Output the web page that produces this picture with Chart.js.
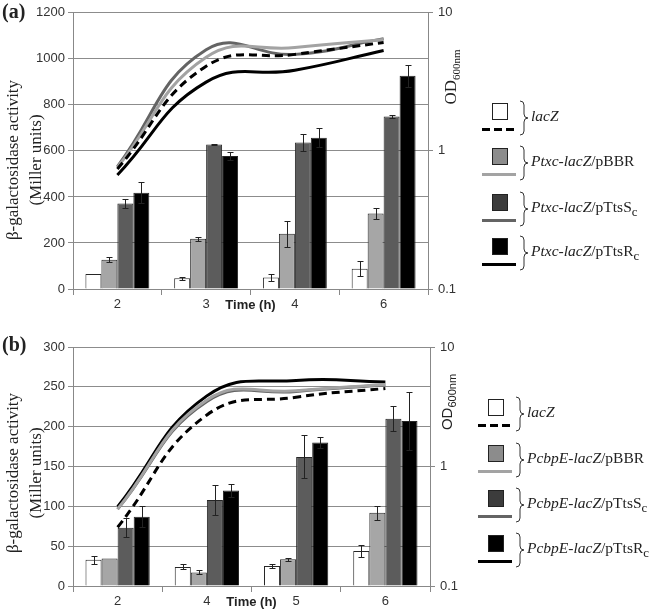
<!DOCTYPE html>
<html>
<head>
<meta charset="utf-8">
<script src="https://cdn.jsdelivr.net/npm/chart.js@4.4.0/dist/chart.umd.min.js"></script>
<style>
body { margin: 0; background: #fff; }
#wrap { position: relative; width: 650px; height: 610px; overflow: hidden; font-family: "Liberation Serif", serif; color: #222; }
canvas { position: absolute; left: 0; }
.abs { position: absolute; white-space: nowrap; }
.rot { transform: rotate(-90deg); text-align: center; }
</style>
</head>
<body>
<div id="wrap">
  <canvas id="chartA" width="650" height="315" style="top:0"></canvas>
  <canvas id="chartB" width="650" height="295" style="top:315px"></canvas>
</div>
<script>
// ---- panel (a) data ----
const timesA = ['2', '3', '4', '6'];
const lacZA = [65, 47, 50, 88];
const lacZErrA = [0, 7, 14, 32];
const pbbrA = [127, 218, 240, 328];
const pbbrErrA = [10, 10, 57, 23];
const ttsSA = [372, 628, 637, 750];
const ttsSErrA = [18, 2, 37, 5];
const ttsRA = [418, 578, 657, 926];
const ttsRErrA = [45, 18, 42, 48];
// OD600nm (right axis)
const odLacZA = [0.74, 4.1, 5.0, 6.1];
const odPbbrA = [0.76, 4.76, 5.6, 6.4];
const odTtsSA = [0.77, 5.4, 5.0, 6.5];
const odTtsRA = [0.67, 3.15, 3.84, 5.34];
const legendA = ['<i>lacZ</i>', '<i>Ptxc-lacZ</i>/pBBR', '<i>Ptxc-lacZ</i>/pTtsS<sub>c</sub>', '<i>Ptxc-lacZ</i>/pTtsR<sub>c</sub>'];

// ---- panel (b) data ----
const timesB = ['2', '4', '5', '6'];
const lacZB = [33, 24, 25, 44];
const lacZErrB = [5, 3, 2, 7];
const pbbrB = [34.5, 17, 33.5, 92];
const pbbrErrB = [0, 2.5, 1.5, 9];
const ttsSB = [73, 108, 162, 210];
const ttsSErrB = [12, 19, 27, 16];
const ttsRB = [87, 120, 180, 207];
const ttsRErrB = [13, 8, 7, 36];
const odLacZB = [0.31, 2.7, 3.8, 4.5];
const odPbbrB = [0.44, 3.6, 4.3, 4.85];
const odTtsSB = [0.44, 3.5, 4.25, 4.8];
const odTtsRB = [0.46, 3.9, 5.25, 5.1];
const legendB = ['<i>lacZ</i>', '<i>PcbpE-lacZ</i>/pBBR', '<i>PcbpE-lacZ</i>/pTtsS<sub>c</sub>', '<i>PcbpE-lacZ</i>/pTtsR<sub>c</sub>'];

const odTicks = [0.1, 1, 10];
const xTitle = 'Time (h)';
const yTitle = ['β-galactosidase activity', '(Miller units)'];

// styles
const barFill = ['#ffffff', '#a6a6a6', '#5c5c5c', '#000000'];
const legendFill = ['#ffffff', '#8c8c8c', '#3c3c3c', '#000000'];
const lineColor = ['#000000', '#a3a3a3', '#646464', '#000000'];
const tickFont = { family: 'Liberation Sans', size: 13 };

// error bars drawn right after each bar dataset, so lines stay on top
const errorBars = {
    id: 'errorBars',
    afterDatasetDraw(chart, args) {
        const ds = chart.data.datasets[args.index];
        if (!ds.errors) return;
        const ctx = chart.ctx;
        const ys = chart.scales.y;
        ctx.save();
        ctx.strokeStyle = '#222';
        ctx.lineWidth = 1;
        args.meta.data.forEach((bar, j) => {
            const e = ds.errors[j];
            if (!e) return;
            const v = ds.data[j];
            const t = Math.round(ys.getPixelForValue(v + e)) + 0.5;
            const b = Math.round(ys.getPixelForValue(v - e)) + 0.5;
            const x = Math.round(bar.x) + 0.5;
            ctx.beginPath();
            ctx.moveTo(x, t); ctx.lineTo(x, b);
            ctx.moveTo(x - 3, t); ctx.lineTo(x + 3, t);
            ctx.moveTo(x - 3, b); ctx.lineTo(x + 3, b);
            ctx.stroke();
        });
        ctx.restore();
    }
};

// "Time (h)" sits on the tick-label row, between the 2nd and 3rd category
const timeTitle = {
    id: 'timeTitle',
    afterDraw(chart) {
        const xs = chart.scales.x;
        const ctx = chart.ctx;
        ctx.save();
        ctx.font = 'bold 13px "Liberation Sans"';
        ctx.fillStyle = '#222';
        ctx.textAlign = 'center';
        ctx.textBaseline = 'middle';
        const x = (xs.getPixelForValue(1) + xs.getPixelForValue(2)) / 2;
        ctx.fillText(xTitle, x, xs.top + 16);
        ctx.restore();
    }
};

function makePanel(id, labels, bars, errs, ods, yMax, yStep, box) {
    const datasets = [];
    bars.forEach((d, i) => datasets.push({
        type: 'bar', data: d, errors: errs[i], yAxisID: 'y', order: 2,
        backgroundColor: barFill[i], borderColor: '#262626', borderWidth: 1,
        categoryPercentage: 0.72, barPercentage: 1
    }));
    ods.forEach((d, i) => datasets.push({
        type: 'line', data: d, yAxisID: 'y2', order: 1,
        borderColor: lineColor[i], borderWidth: 3, borderDash: i === 0 ? [8, 5] : [],
        pointRadius: 0, tension: 0.45, fill: false
    }));
    return new Chart(document.getElementById(id), {
        data: { labels: labels, datasets: datasets },
        options: {
            responsive: false,
            animation: false,
            devicePixelRatio: 1,
            layout: { padding: { top: box.top, left: 0, right: 0, bottom: 0 } },
            plugins: { legend: { display: false }, tooltip: { enabled: false } },
            scales: {
                x: {
                    type: 'category', offset: true,
                    grid: { offset: true, drawOnChartArea: false, tickLength: 6, color: '#888' },
                    border: { color: '#888' },
                    ticks: { font: tickFont, color: '#333', padding: 2, maxRotation: 0 },
                    afterFit(s) { s.height = box.xh; }
                },
                y: {
                    position: 'left', min: 0, max: yMax,
                    ticks: { stepSize: yStep, font: tickFont, color: '#333', padding: 3, callback: v => String(v) },
                    grid: { color: '#8c8c8c', tickLength: 5 },
                    border: { color: '#888' },
                    afterFit(s) { s.width = 73; }
                },
                y2: {
                    type: 'logarithmic', position: 'right', min: 0.1, max: 10,
                    afterBuildTicks(s) { s.ticks = odTicks.map(v => ({ value: v })); },
                    ticks: { font: tickFont, color: '#333', padding: 5, callback: v => String(v) },
                    grid: { drawOnChartArea: false, tickLength: 5, color: '#888' },
                    border: { color: '#888' },
                    afterFit(s) { s.width = 650 - box.right; }
                }
            }
        },
        plugins: [errorBars, timeTitle]
    });
}

makePanel('chartA', timesA, [lacZA, pbbrA, ttsSA, ttsRA], [lacZErrA, pbbrErrA, ttsSErrA, ttsRErrA],
    [odLacZA, odPbbrA, odTtsSA, odTtsRA], 1200, 200, { top: 10, xh: 26, right: 428 });
makePanel('chartB', timesB, [lacZB, pbbrB, ttsSB, ttsRB], [lacZErrB, pbbrErrB, ttsSErrB, ttsRErrB],
    [odLacZB, odPbbrB, odTtsSB, odTtsRB], 300, 50, { top: 32, xh: 24, right: 430 });

// ---- text and legends around the plots ----
const wrap = document.getElementById('wrap');
function addDiv(html, css) {
    const d = document.createElement('div');
    d.className = 'abs';
    d.innerHTML = html;
    d.setAttribute('style', css);
    wrap.appendChild(d);
    return d;
}

function addTitles(tag, tagTop, leftCy, odCx, odCy, odFont) {
    addDiv(tag, 'left:2px;top:' + tagTop + 'px;font:bold 20px "Liberation Serif";');
    const t = addDiv(yTitle.join('<br>'), 'left:-106px;top:' + (leftCy - 23) + 'px;width:260px;height:46px;' +
        'font-family:"Liberation Serif";font-size:17px;line-height:23px;');
    t.classList.add('rot');
    const o = addDiv('OD<sub style="font-size:11px">600nm</sub>', 'left:' + (odCx - 40) + 'px;top:' + (odCy - 12) + 'px;width:80px;height:24px;' +
        'font:' + odFont + ';line-height:24px;');
    o.classList.add('rot');
}
addTitles('(a)', 0, 160, 451, 77, '17px "Liberation Serif"');
addTitles('(b)', 333, 473, 447, 402, '15px "Liberation Sans"');

function brace(x, y) {
    return '<svg class="abs" style="left:' + x + 'px;top:' + y + 'px" width="10" height="36">' +
        '<path d="M1,1 Q5,1 5,5 L5,14 Q5,18 9,18 Q5,18 5,22 L5,31 Q5,35 1,35" fill="none" stroke="#333" stroke-width="1"/></svg>';
}

function addLegend(labels, tops, pos) {
    labels.forEach((lab, i) => {
        const top = tops[i];
        addDiv('', 'left:' + pos.sq + 'px;top:' + top + 'px;width:14px;height:15px;border:1px solid #222;background:' + legendFill[i] + ';');
        const line = i === 0
            ? 'repeating-linear-gradient(90deg,#000 0 8px,transparent 8px 12px)'
            : lineColor[i];
        addDiv('', 'left:' + pos.ln + 'px;top:' + (top + 25) + 'px;width:34px;height:3px;background:' + line + ';');
        wrap.insertAdjacentHTML('beforeend', brace(pos.br, top - 3));
        addDiv(lab, 'left:' + pos.tx + 'px;top:' + (top + 3) + 'px;font-size:15.5px;line-height:20px;');
    });
}
addLegend(legendA, [103, 148, 194, 238], { sq: 492, ln: 482, br: 519, tx: 531 });
addLegend(legendB, [399, 445, 490, 535], { sq: 488, ln: 478, br: 515, tx: 527 });
</script>
</body>
</html>
